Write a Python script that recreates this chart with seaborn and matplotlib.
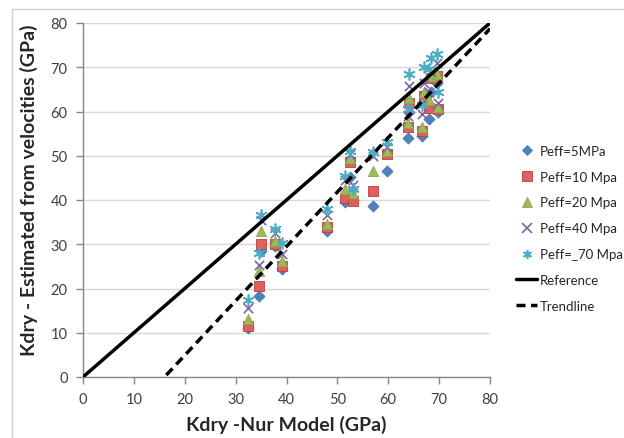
import numpy as np
import pandas as pd
import matplotlib
matplotlib.use("Agg")
import matplotlib.pyplot as plt
import seaborn as sns
from matplotlib.lines import Line2D
from matplotlib.patches import Rectangle

# Nur model value for each sample (GPa)
nur_model = [32.5, 34.5, 35.0, 37.8, 39.2, 48.0, 51.5, 52.5, 53.0, 57.0, 59.8,
             63.8, 64.0, 66.7, 67.0, 68.0, 68.5, 69.5, 69.8]

# Kdry estimated from velocities at each effective pressure
peff_5 = [11.0, 18.3, 28.5, 29.5, 24.5, 33.0, 39.5, 45.2, 40.0, 38.6, 46.5,
          54.0, 60.0, 54.5, 62.5, 58.2, 64.5, 66.5, 60.0]
peff_10 = [11.5, 20.5, 30.0, 30.0, 25.0, 34.0, 40.5, 48.5, 39.8, 42.0, 50.3,
           56.5, 62.0, 55.5, 63.5, 60.8, 67.5, 68.0, 60.5]
peff_20 = [13.0, 24.0, 33.0, 30.8, 26.2, 34.6, 42.5, 49.5, 41.5, 46.5, 51.0,
           57.5, 63.0, 56.5, 64.5, 62.5, 68.0, 68.5, 61.0]
peff_40 = [15.5, 25.2, 35.5, 32.5, 27.8, 36.5, 44.5, 50.5, 43.5, 50.0, 52.0,
           59.0, 65.8, 59.5, 66.5, 64.5, 69.0, 71.0, 62.0]
peff_70 = [17.5, 28.0, 36.5, 33.5, 30.2, 38.0, 45.5, 51.0, 42.5, 50.8, 53.0,
           60.5, 68.5, 61.5, 70.0, 69.5, 72.0, 73.0, 64.5]

series_names = ["Peff=5MPa", "Peff=10 Mpa", "Peff=20 Mpa", "Peff=40 Mpa", "Peff=_70 Mpa"]
series_values = [peff_5, peff_10, peff_20, peff_40, peff_70]

# trendline
trend_slope = 1.23
trend_intercept = -19.7

colors = {"Peff=5MPa": "#4f81bd", "Peff=10 Mpa": "#e0605c", "Peff=20 Mpa": "#9bbb59",
          "Peff=40 Mpa": "#8064a2", "Peff=_70 Mpa": "#4bacc6"}
edges = {"Peff=5MPa": "#4a7ab3", "Peff=10 Mpa": "#b8413d", "Peff=20 Mpa": "#8aa84e",
         "Peff=40 Mpa": "#8064a2", "Peff=_70 Mpa": "#4bacc6"}
markers = {"Peff=5MPa": "D", "Peff=10 Mpa": "s", "Peff=20 Mpa": "^",
           "Peff=40 Mpa": "x", "Peff=_70 Mpa": (6, 2, 0)}
sizes = {"Peff=5MPa": 32, "Peff=10 Mpa": 60, "Peff=20 Mpa": 55,
         "Peff=40 Mpa": 45, "Peff=_70 Mpa": 60}

rows = []
for name, vals in zip(series_names, series_values):
    for x, y in zip(nur_model, vals):
        rows.append([name, x, y])
df = pd.DataFrame(rows, columns=["Serie", "Nur", "Kdry"])

sns.set_style("white")
plt.rcParams["font.family"] = ["Lato", "DejaVu Sans"]

fig = plt.figure(figsize=(6.24, 4.39), dpi=100)
ax = fig.add_axes([83 / 624, 1 - 378 / 439, 407 / 624, 354 / 439])

# light border around the chart area
fig.patches.append(Rectangle((12 / 624, -0.05), 1.0, 1 - 10 / 439 + 0.05,
                             transform=fig.transFigure, fill=False,
                             edgecolor="#d0d0d0", linewidth=1.0))

for name in series_names:
    sub = df[df["Serie"] == name]
    filled = name not in ("Peff=40 Mpa", "Peff=_70 Mpa")
    sns.scatterplot(data=sub, x="Nur", y="Kdry", ax=ax, marker=markers[name],
                    s=sizes[name], color=colors[name],
                    edgecolor=edges[name] if filled else None,
                    linewidth=0.6 if filled else 1.2, zorder=3, legend=False)

xs = np.array([0, 80])
ax.plot(xs, xs, color="black", linewidth=2.5, zorder=4)
ax.plot(xs, trend_slope * xs + trend_intercept, color="black", linewidth=2.5,
        linestyle=(0, (2.6, 1.6)), zorder=4)

ax.set_xlim(0, 80)
ax.set_ylim(0, 80)
ax.set_xticks(range(0, 81, 10))
ax.set_yticks(range(0, 81, 10))
ax.yaxis.grid(True, color="#d9d9d9", linewidth=1.0)
ax.set_axisbelow(True)
for side in ["top", "right"]:
    ax.spines[side].set_visible(False)
for side in ["left", "bottom"]:
    ax.spines[side].set_color("#868686")
    ax.spines[side].set_linewidth(1.0)
ax.tick_params(axis="both", direction="out", length=5, width=1, color="#868686",
               labelsize=10.5, labelcolor="#404040", left=True, bottom=True, pad=6)

ax.set_xlabel("Kdry -Nur Model (GPa)", fontsize=14, fontweight="bold", labelpad=6)
ax.set_ylabel("Kdry - Estimated from velocities (GPa)", fontsize=14,
              fontweight="bold")
ax.yaxis.set_label_coords(-0.11, 0.53)

handles = []
for name in series_names:
    filled = name not in ("Peff=40 Mpa", "Peff=_70 Mpa")
    handles.append(Line2D([], [], linestyle="none", marker=markers[name],
                          markersize=6.5 if name != "Peff=5MPa" else 5.5,
                          markerfacecolor=colors[name],
                          markeredgecolor=edges[name] if filled else colors[name],
                          markeredgewidth=0.6 if filled else 1.2, label=name))
handles.append(Line2D([], [], color="black", linewidth=2.5, label="Reference"))
handles.append(Line2D([], [], color="black", linewidth=2.5, linestyle=(0, (2.6, 1.6)),
                      label="Trendline"))
ax.legend(handles=handles, loc="center left", bbox_to_anchor=(1.035, 0.42),
          frameon=False, fontsize=9.5, labelspacing=1.05, handlelength=1.6,
          handletextpad=0.2)

fig.savefig("out.png", dpi=100)
